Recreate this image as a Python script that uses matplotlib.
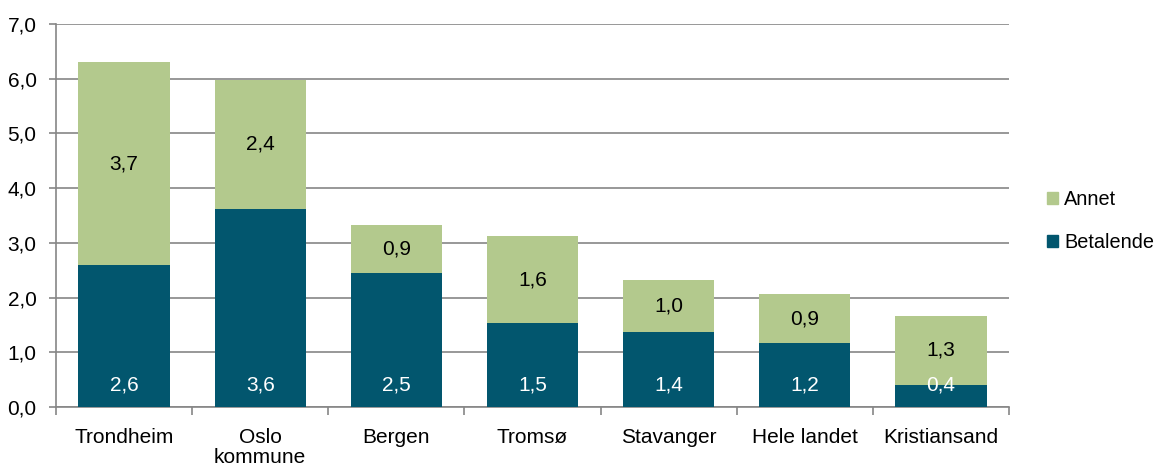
import matplotlib
matplotlib.use("Agg")
import matplotlib.pyplot as plt
from matplotlib.patches import Patch
import numpy as np

plt.rcParams['font.family'] = ['Liberation Sans', 'DejaVu Sans']

categories = ["Trondheim", "Oslo\nkommune", "Bergen", "Tromsø", "Stavanger", "Hele landet", "Kristiansand"]
betalende = [2.60, 3.62, 2.45, 1.53, 1.37, 1.17, 0.41]
annet = [3.70, 2.36, 0.87, 1.60, 0.96, 0.89, 1.26]
betalende_labels = ["2,6", "3,6", "2,5", "1,5", "1,4", "1,2", "0,4"]
annet_labels = ["3,7", "2,4", "0,9", "1,6", "1,0", "0,9", "1,3"]
yticks = [0, 1, 2, 3, 4, 5, 6, 7]
ytick_labels = ["0,0", "1,0", "2,0", "3,0", "4,0", "5,0", "6,0", "7,0"]

c_bet = "#02566E"
c_ann = "#B3C98D"
grid_c = "#868686"
fs = 15

fig = plt.figure(figsize=(11.63, 4.65), dpi=100)
ax = fig.add_axes([56/1163, 1 - 407/465, (1009-56)/1163, (407-24)/465])

x = np.arange(len(categories))
w = 0.67
ax.bar(x, betalende, w, color=c_bet, zorder=3)
ax.bar(x, annet, w, bottom=betalende, color=c_ann, zorder=3)

for i in range(len(categories)):
    ax.annotate(betalende_labels[i], (x[i], 0), xytext=(0, 16), textcoords='offset points',
                ha='center', va='center', color='white', fontsize=fs, zorder=4)
    ax.text(x[i], betalende[i] + annet[i] / 2, annet_labels[i], ha='center', va='center',
            color='black', fontsize=fs, zorder=4)

ax.set_xlim(-0.5, len(categories) - 0.5)
ax.set_ylim(0, 7)
ax.set_yticks(yticks)
ax.set_yticklabels(ytick_labels, fontsize=fs)
ax.yaxis.grid(True, color=grid_c, linewidth=1.2, zorder=0)
ax.set_axisbelow(True)

ax.set_xticks(x)
ax.set_xticklabels(categories, fontsize=fs, linespacing=1.1)
ax.tick_params(axis='x', length=0, pad=15)
ax.set_xticks(np.arange(-0.5, len(categories)), minor=True)
ax.tick_params(axis='x', which='minor', length=6, color=grid_c, width=1.2)
ax.tick_params(axis='y', length=5, color=grid_c, width=1.2, pad=9)

for s in ['top', 'right']:
    ax.spines[s].set_visible(False)
for s in ['left', 'bottom']:
    ax.spines[s].set_color(grid_c)
    ax.spines[s].set_linewidth(1.2)

handles = [Patch(color=c_ann, label="Annet"), Patch(color=c_bet, label="Betalende")]
fig.legend(handles=handles, loc='center left', bbox_to_anchor=(1047/1163, 1 - 221/465),
           frameon=False, fontsize=14.3, handlelength=0.55, handleheight=0.55,
           handletextpad=0.3, labelspacing=1.2, borderpad=0, borderaxespad=0)

fig.savefig("out.png", dpi=100)
